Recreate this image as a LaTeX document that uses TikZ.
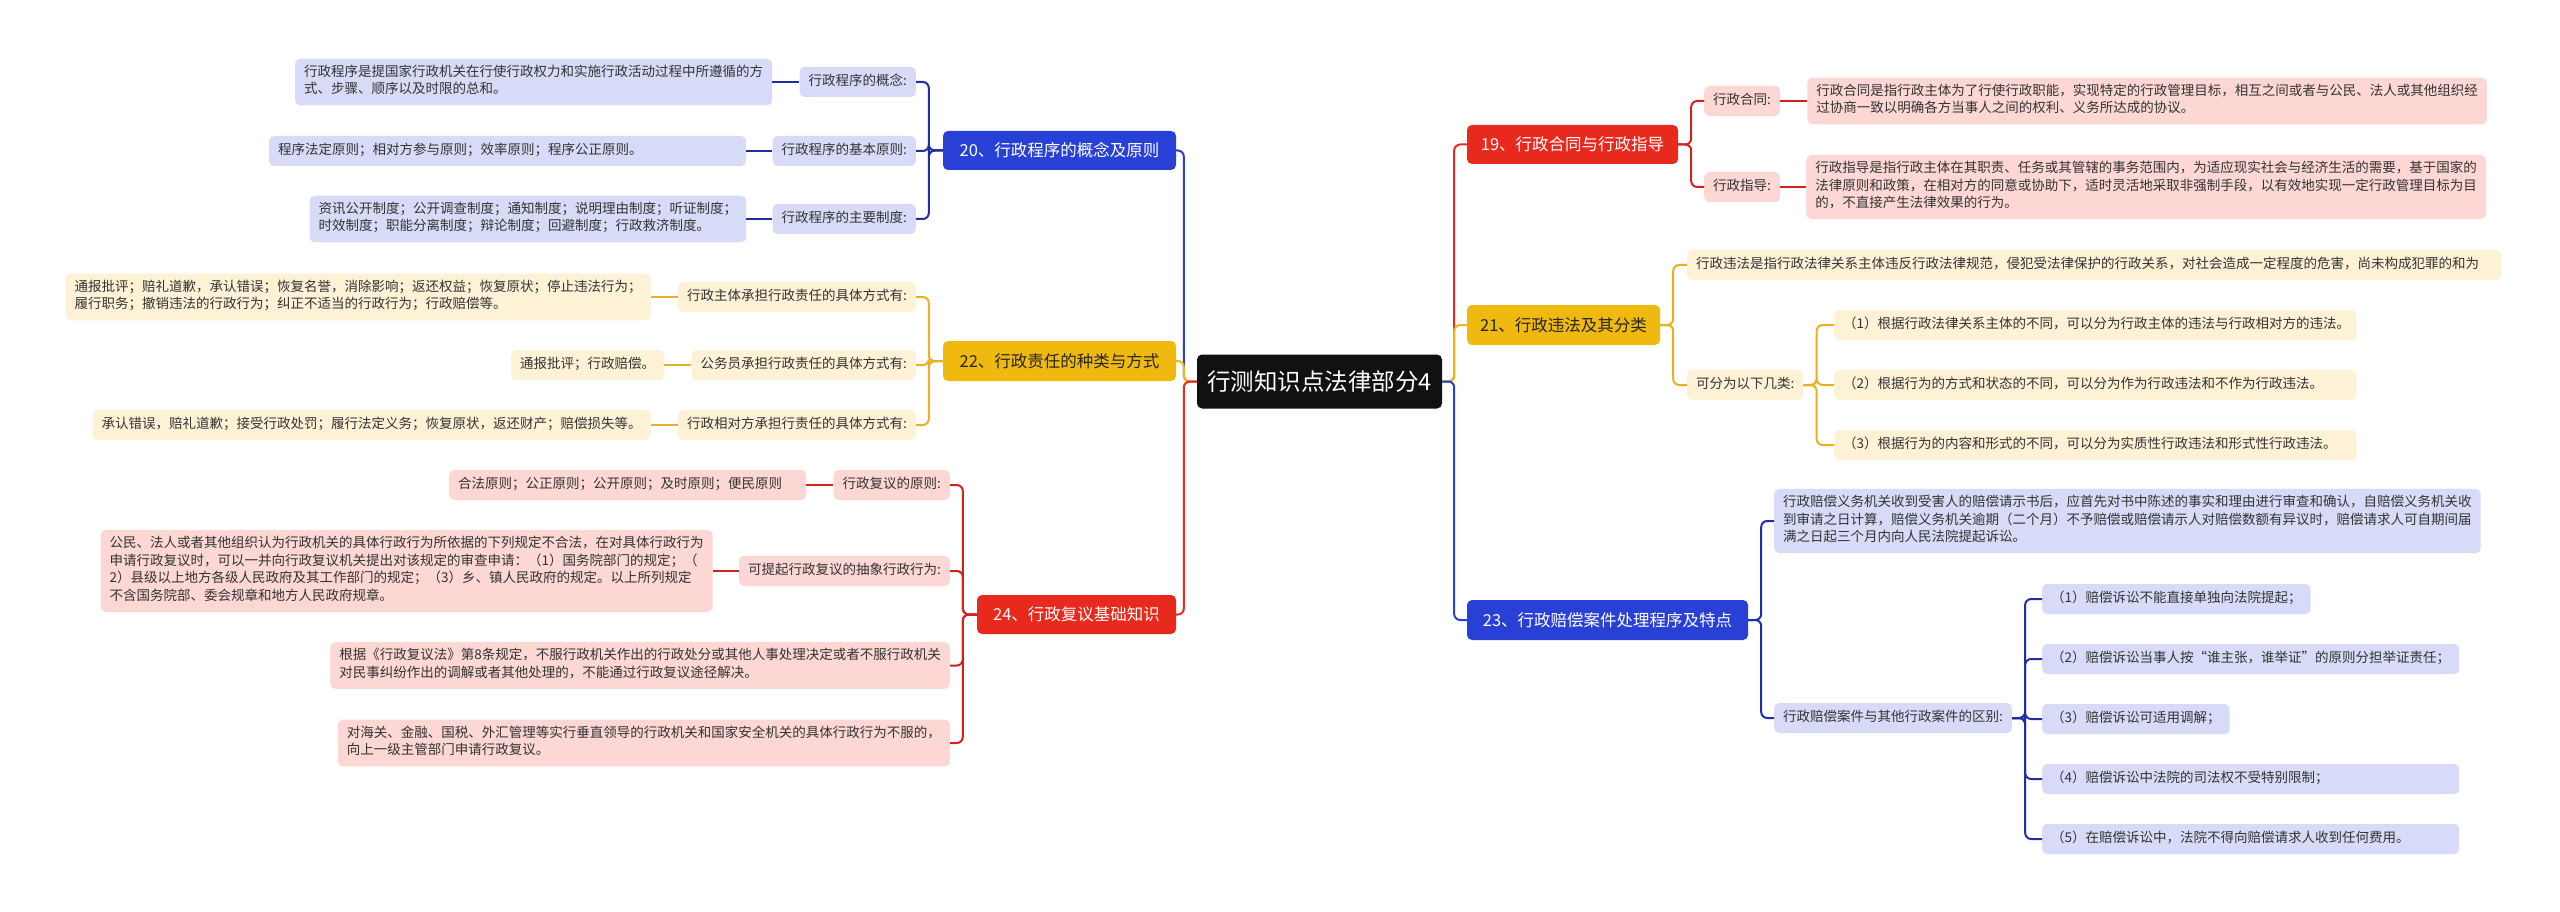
\documentclass[tikz,border=0pt]{standalone}
\usepackage{fontspec}
\newfontfamily\cjk{Noto Sans CJK SC}
\usetikzlibrary{positioning}
\definecolor{cfill}{HTML}{111111}
\definecolor{bmain}{HTML}{2940D6}
\definecolor{bline}{HTML}{1F2FA3}
\definecolor{bfill}{HTML}{D7DBF8}
\definecolor{rmain}{HTML}{E8291E}
\definecolor{rline}{HTML}{D1231B}
\definecolor{rfill}{HTML}{FCD7D4}
\definecolor{ymain}{HTML}{F0B90F}
\definecolor{yline}{HTML}{E8B21E}
\definecolor{yfill}{HTML}{FDF2D5}
\definecolor{txt}{HTML}{333333}
\newcommand\fixw[2]{\makebox[#1][l]{#2}}
\tikzset{
  sub/.style={font=\cjk\fontsize{13.5}{17.5}\selectfont, text=txt, rounded corners=5pt,
    inner xsep=9pt, inner ysep=6.25pt, align=left,
    execute at begin node=\strut, execute at end node=\strut},
  bsub/.style={sub, fill=bfill},
  ysub/.style={sub, fill=yfill},
  rsub/.style={sub, fill=rfill},
  mainbox/.style={font=\cjk\fontsize{16.5}{22}\selectfont, rounded corners=5pt,
    inner xsep=7pt, inner ysep=0pt},
  bbox/.style={mainbox, fill=bmain, text=white},
  rbox/.style={mainbox, fill=rmain, text=white},
  ybox/.style={mainbox, fill=ymain, text=black!85},
  conn/.style={line width=2pt, rounded corners=6pt},
}
\begin{document}
\begin{tikzpicture}[x=1pt,y=-1pt]
\useasboundingbox[fill=white] (0,0) rectangle (2560,912);

% central
\node[fill=cfill, text=white, font=\cjk\fontsize{23.5}{28}\selectfont, rounded corners=5pt,
  minimum width=245pt, minimum height=54pt, inner sep=0pt] (C) at (1319.5,381.5) {行测知识点法律部分4};

% main branches
\node[bbox, minimum width=233pt, minimum height=39pt] (N20) at (1059.5,150.5) {20、行政程序的概念及原则};
\node[ybox, minimum width=233pt, minimum height=40pt] (N22) at (1059.5,361) {22、行政责任的种类与方式};
\node[rbox, minimum width=199pt, minimum height=39pt] (N24) at (1076.5,614.5) {24、行政复议基础知识};
\node[rbox, minimum width=211pt, minimum height=39pt] (N19) at (1572.5,144.5) {19、行政合同与行政指导};
\node[ybox, minimum width=193pt, minimum height=40pt] (N21) at (1563.5,325) {21、行政违法及其分类};
\node[bbox, minimum width=281pt, minimum height=40pt] (N23) at (1607.5,620) {23、行政赔偿案件处理程序及特点};

% 20
\node[bsub, anchor=east] (a1) at (916,82) {行政程序的概念:};
\node[bsub, anchor=east] (a2) at (916,151) {行政程序的基本原则:};
\node[bsub, anchor=east] (a3) at (916,219) {行政程序的主要制度:};
\node[bsub, left=27pt of a1] (a1l) {行政程序是提国家行政机关在行使行政权力和实施行政活动过程中所遵循的方\\式、步骤、顺序以及时限的总和。};
\node[bsub, left=26pt of a2] (a2l) {\fixw{459pt}{程序法定原则；相对方参与原则；效率原则；程序公正原则。}};
\node[bsub, left=26pt of a3] (a3l) {资讯公开制度；公开调查制度；通知制度；说明理由制度；听证制度；\\时效制度；职能分离制度；辩论制度；回避制度；行政救济制度。};

% 22
\node[ysub, anchor=east] (b1) at (916,297) {行政主体承担行政责任的具体方式有:};
\node[ysub, anchor=east] (b2) at (916,365) {公务员承担行政责任的具体方式有:};
\node[ysub, anchor=east] (b3) at (916,425) {行政相对方承担行责任的具体方式有:};
\node[ysub, left=27pt of b1] (b1l) {通报批评；赔礼道歉，承认错误；恢复名誉，消除影响；返还权益；恢复原状；停止违法行为；\\履行职务；撤销违法的行政行为；纠正不适当的行政行为；行政赔偿等。};
\node[ysub, left=27pt of b2] (b2l) {通报批评；行政赔偿。};
\node[ysub, left=27pt of b3] (b3l) {承认错误，赔礼道歉；接受行政处罚；履行法定义务；恢复原状，返还财产；赔偿损失等。};

% 24
\node[rsub, anchor=east] (c1) at (950,485) {行政复议的原则:};
\node[rsub, anchor=east] (c2) at (950,571) {可提起行政复议的抽象行政行为:};
\node[rsub, anchor=east] (c3) at (950,665.5) {根据《行政复议法》第8条规定，不服行政机关作出的行政处分或其他人事处理决定或者不服行政机关\\对民事纠纷作出的调解或者其他处理的，不能通过行政复议途径解决。};
\node[rsub, anchor=east] (c4) at (950,743) {对海关、金融、国税、外汇管理等实行垂直领导的行政机关和国家安全机关的具体行政行为不服的，\\向上一级主管部门申请行政复议。};
\node[rsub, left=27pt of c1] (c1l) {\fixw{339pt}{合法原则；公正原则；公开原则；及时原则；便民原则}};
\node[rsub, left=26pt of c2] (c2l) {公民、法人或者其他组织认为行政机关的具体行政行为所依据的下列规定不合法，在对具体行政行为\\申请行政复议时，可以一并向行政复议机关提出对该规定的审查申请：（1）国务院部门的规定；（\\2）县级以上地方各级人民政府及其工作部门的规定；（3）乡、镇人民政府的规定。以上所列规定\\不含国务院部、委会规章和地方人民政府规章。};

% 19
\node[rsub, anchor=west] (d1) at (1704,101) {行政合同:};
\node[rsub, anchor=west] (d2) at (1704,187) {行政指导:};
\node[rsub, right=27pt of d1] (d1l) {行政合同是指行政主体为了行使行政职能，实现特定的行政管理目标，相互之间或者与公民、法人或其他组织经\\过协商一致以明确各方当事人之间的权利、义务所达成的协议。};
\node[rsub, right=26pt of d2] (d2l) {行政指导是指行政主体在其职责、任务或其管辖的事务范围内，为适应现实社会与经济生活的需要，基于国家的\\法律原则和政策，在相对方的同意或协助下，适时灵活地采取非强制手段，以有效地实现一定行政管理目标为目\\的，不直接产生法律效果的行为。};

% 21
\node[ysub, anchor=west] (e1) at (1687,265) {\fixw{796pt}{行政违法是指行政法律关系主体违反行政法律规范，侵犯受法律保护的行政关系，对社会造成一定程度的危害，尚未构成犯罪的和为}};
\node[ysub, anchor=west] (e2) at (1687,385) {可分为以下几类:};
\node[ysub, anchor=west] (e2a) at (1834,325) {\fixw{504pt}{（1）根据行政法律关系主体的不同，可以分为行政主体的违法与行政相对方的违法。}};
\node[ysub, anchor=west] (e2b) at (1834,385) {\fixw{504pt}{（2）根据行为的方式和状态的不同，可以分为作为行政违法和不作为行政违法。}};
\node[ysub, anchor=west] (e2c) at (1834,445) {\fixw{504pt}{（3）根据行为的内容和形式的不同，可以分为实质性行政违法和形式性行政违法。}};

% 23
\node[bsub, anchor=west] (f1) at (1774,521) {行政赔偿义务机关收到受害人的赔偿请示书后，应首先对书中陈述的事实和理由进行审查和确认，自赔偿义务机关收\\到审请之日计算，赔偿义务机关逾期（二个月）不予赔偿或赔偿请示人对赔偿数额有异议时，赔偿请求人可自期间届\\满之日起三个月内向人民法院提起诉讼。};
\node[bsub, anchor=west] (f2) at (1774,718) {行政赔偿案件与其他行政案件的区别:};
\node[bsub, anchor=west] (f2a) at (2042,599) {（1）赔偿诉讼不能直接单独向法院提起；};
\node[bsub, anchor=west] (f2b) at (2042,659) {\fixw{399pt}{（2）赔偿诉讼当事人按“谁主张，谁举证”的原则分担举证责任；}};
\node[bsub, anchor=west] (f2c) at (2042,719) {（3）赔偿诉讼可适用调解；};
\node[bsub, anchor=west] (f2d) at (2042,779) {\fixw{399pt}{（4）赔偿诉讼中法院的司法权不受特别限制；}};
\node[bsub, anchor=west] (f2e) at (2042,839) {\fixw{399pt}{（5）在赔偿诉讼中，法院不得向赔偿请求人收到任何费用。}};

% main connectors
\draw[conn, bmain] (C.west) -- ++(-13,0) |- (N20.east);
\draw[conn, ymain] (C.west) -- ++(-13,0) |- (N22.east);
\draw[conn, rmain] (C.west) -- ++(-13,0) |- (N24.east);
\draw[conn, rmain] (C.east) -- ++(12,0) |- (N19.west);
\draw[conn, ymain] (C.east) -- ++(12,0) |- (N21.west);
\draw[conn, bmain] (C.east) -- ++(12,0) |- (N23.west);

% 20 connectors
\foreach \t in {a1,a2,a3} \draw[conn, bline] (N20.west) -- ++(-14,0) |- (\t.east);
\draw[conn, bline] (a1.west) -- (a1l.east);
\draw[conn, bline] (a2.west) -- (a2l.east);
\draw[conn, bline] (a3.west) -- (a3l.east);
% 22
\foreach \t in {b1,b2,b3} \draw[conn, yline] (N22.west) -- ++(-14,0) |- (\t.east);
\draw[conn, yline] (b1.west) -- (b1l.east);
\draw[conn, yline] (b2.west) -- (b2l.east);
\draw[conn, yline] (b3.west) -- (b3l.east);
% 24
\foreach \t in {c1,c2,c3,c4} \draw[conn, rline] (N24.west) -- ++(-14,0) |- (\t.east);
\draw[conn, rline] (c1.west) -- (c1l.east);
\draw[conn, rline] (c2.west) -- (c2l.east);
% 19
\foreach \t in {d1,d2} \draw[conn, rline] (N19.east) -- ++(13,0) |- (\t.west);
\draw[conn, rline] (d1.east) -- (d1l.west);
\draw[conn, rline] (d2.east) -- (d2l.west);
% 21
\foreach \t in {e1,e2} \draw[conn, yline] (N21.east) -- ++(13,0) |- (\t.west);
\foreach \t in {e2a,e2b,e2c} \draw[conn, yline] (e2.east) -- ++(13,0) |- (\t.west);
% 23
\foreach \t in {f1,f2} \draw[conn, bline] (N23.east) -- ++(13,0) |- (\t.west);
\foreach \t in {f2a,f2b,f2c,f2d,f2e} \draw[conn, bline] (f2.east) -- ++(13,0) |- (\t.west);
\end{tikzpicture}
\end{document}
